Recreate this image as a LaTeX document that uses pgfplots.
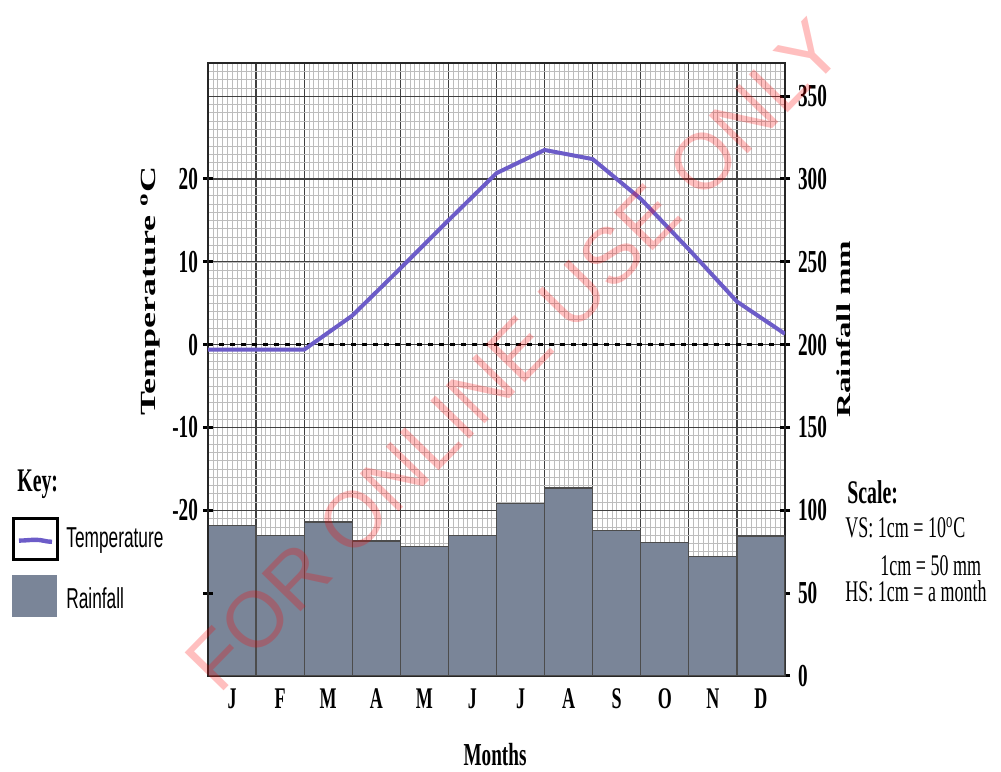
\documentclass[border=0pt]{standalone}
\usepackage{pgfplots}
\pgfplotsset{compat=1.18}
\usepackage{fontspec}
\setmainfont{Liberation Serif}[FakeStretch=0.6]
\setsansfont{Liberation Sans}[FakeStretch=0.6]
\newfontfamily\plainserif{Liberation Serif}
\newfontfamily\wmfont{Liberation Sans}
\definecolor{barc}{RGB}{122,133,152}
\definecolor{tempc}{RGB}{108,92,200}
\begin{document}
\begin{tikzpicture}
\path[use as bounding box] (0,0) rectangle (500.5pt,385.5pt);
% Rainfall axis (bars + grid)
\begin{axis}[
  at={(104pt,47.5pt)}, anchor=south west, scale only axis,
  width=288.5pt, height=306.5pt,
  xmin=0, xmax=12, ymin=0, ymax=370,
  xtick={0,...,12}, xticklabels={},
  minor x tick num=9,
  ytick={0,50,...,350},
  yticklabels={0,50,100,150,200,250,300,350},
  minor ytick={0,5,...,370},
  ytick pos=right, yticklabel pos=right,
  grid=both,
  major grid style={black!75, line width=0.6pt},
  minor grid style={black!26, line width=0.3pt},
  minor tick length=0pt,
  major tick length=5pt,
  tick align=center,
  x tick style={draw=none},
  y tick style={black, line width=1.5pt},
  axis line style={black!85, line width=0.8pt},
  extra x ticks={0.5,1.5,...,11.5},
  extra x tick labels={J,F,M,A,M,J,J,A,S,O,N,D},
  extra x tick style={grid=none, major tick length=0pt},
  xticklabel style={font=\bfseries\fontsize{15}{15}\selectfont, yshift=-3pt},
  yticklabel style={font=\bfseries\fontsize{16}{16}\selectfont, xshift=0.5pt},
]
\addplot[ybar, bar width=1, fill=barc, draw=black!70, line width=0.6pt]
  coordinates {(0.5,91) (1.5,85) (2.5,93) (3.5,81.5) (4.5,78) (5.5,85)
               (6.5,104) (7.5,113.5) (8.5,88) (9.5,80.5) (10.5,72) (11.5,84.5)};
\end{axis}
% Temperature axis
\begin{axis}[
  at={(104pt,47.5pt)}, anchor=south west, scale only axis,
  width=288.5pt, height=306.5pt,
  xmin=0, xmax=12, ymin=-40, ymax=34,
  hide x axis, axis y line*=left,
  ytick={-30,-20,-10,0,10,20},
  yticklabels={,-20,-10,0,10,20},
  major tick length=5pt, tick align=center,
  y tick style={black, line width=1.5pt},
  axis line style={black!85, line width=0.8pt},
  yticklabel style={font=\bfseries\fontsize{16}{16}\selectfont, xshift=1pt},
]
\addplot[black, line width=1.5pt, dash pattern=on 2.5pt off 3pt] coordinates {(0,0) (12,0)};
\addplot[tempc, line width=2pt, line join=round]
  coordinates {(0,-0.6) (1,-0.6) (2,-0.6) (3,3.5) (4,9.2) (5,15) (6,20.7)
               (7,23.5) (8,22.4) (9,17.6) (10,11.5) (11,5.2) (12,1.3)};
\end{axis}
% axis titles
\node[rotate=90] at (75pt,240pt) {\scalebox{1}[0.6]{\plainserif\bfseries\fontsize{18}{18}\selectfont Temperature \textsuperscript{o}C}};
\node[rotate=90] at (422pt,221pt) {\scalebox{1}[0.6]{\plainserif\bfseries\fontsize{16.5}{16.5}\selectfont Rainfall mm}};
\node at (247.5pt,8pt) {\bfseries\fontsize{16}{16}\selectfont Months};
% key
\node[anchor=west, inner sep=0pt] at (8.5pt,143.5pt) {\bfseries\fontsize{16.5}{16.5}\selectfont Key:};
\draw[black, line width=1.5pt] (6.5pt,105.5pt) rectangle (28.5pt,126pt);
\draw[tempc, line width=2.2pt] (9.5pt,115.2pt) to[out=0,in=180] (18pt,115.6pt) to[out=0,in=180] (26pt,114.6pt);
\node[anchor=west, inner sep=0pt] at (33pt,115pt) {\sffamily\fontsize{14.4}{14.4}\selectfont Temperature};
\fill[barc] (6pt,77pt) rectangle (28.5pt,98pt);
\node[anchor=west, inner sep=0pt] at (33pt,86.5pt) {\sffamily\fontsize{14.4}{14.4}\selectfont Rainfall};
% scale
\node[anchor=west, inner sep=0pt] at (423.5pt,139.5pt) {\bfseries\fontsize{16.5}{16.5}\selectfont Scale:};
\node[anchor=west, inner sep=0pt] at (422.5pt,121.5pt) {\fontsize{15}{15}\selectfont VS: 1cm = 10\textsuperscript{o}C};
\node[anchor=west, inner sep=0pt] at (440pt,102.5pt) {\fontsize{15}{15}\selectfont 1cm = 50 mm};
\node[anchor=west, inner sep=0pt] at (422.5pt,90pt) {\fontsize{15}{15}\selectfont HS: 1cm = a month};
% watermark
\node[rotate=45.7, text=red, opacity=0.25] at (257pt,208pt) {\wmfont\fontsize{39.5}{39.5}\selectfont FOR ONLINE USE ONLY};
\end{tikzpicture}
\end{document}
